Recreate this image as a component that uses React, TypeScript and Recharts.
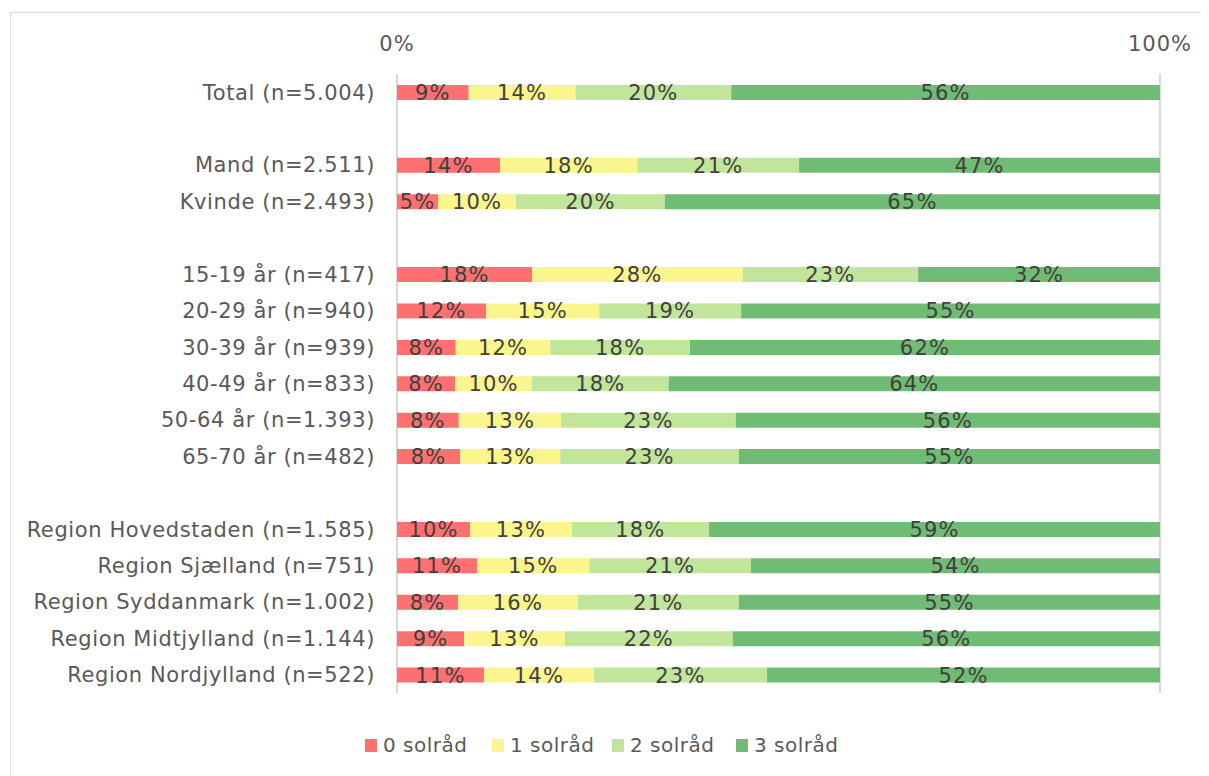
import React from 'react';
import {
  BarChart,
  Bar,
  XAxis,
  YAxis,
  CartesianGrid,
  LabelList,
} from 'recharts';

// blank entries are the spacer rows between groups
const categories = [
  'Total (n=5.004)',
  '',
  'Mand (n=2.511)',
  'Kvinde (n=2.493)',
  ' ',
  '15-19 år (n=417)',
  '20-29 år (n=940)',
  '30-39 år (n=939)',
  '40-49 år (n=833)',
  '50-64 år (n=1.393)',
  '65-70 år (n=482)',
  '  ',
  'Region Hovedstaden (n=1.585)',
  'Region Sjælland (n=751)',
  'Region Syddanmark (n=1.002)',
  'Region Midtjylland (n=1.144)',
  'Region Nordjylland (n=522)',
];

const zero = [9.4, null, 13.5, 5.4, null, 17.7, 11.7, 7.7, 7.6, 8.1, 8.3, null, 9.6, 10.5, 8.0, 8.8, 11.4];
const one = [14.0, null, 18.0, 10.2, null, 27.6, 14.8, 12.4, 10.1, 13.4, 13.1, null, 13.3, 14.7, 15.7, 13.2, 14.4];
const two = [20.4, null, 21.2, 19.5, null, 23.0, 18.6, 18.3, 17.9, 22.9, 23.4, null, 18.0, 21.2, 21.1, 22.0, 22.7];
const three = [56.2, null, 47.3, 64.9, null, 31.7, 54.9, 61.6, 64.4, 55.6, 55.2, null, 59.1, 53.6, 55.2, 56.0, 51.5];

const xTicks = [0, 100];

const seriesNames = ['0 solråd', '1 solråd', '2 solråd', '3 solråd'];
const colors = ['#FF7070', '#FAF58C', '#C1E59B', '#71BC74'];

const data = categories.map((name, i) => ({
  name,
  s0: zero[i],
  s1: one[i],
  s2: two[i],
  s3: three[i],
}));

const FONT = '"DejaVu Sans", sans-serif';
const pct = (v: any) => (v == null ? '' : `${Math.round(Number(v))}%`);

export default function App() {
  return (
    <div
      style={{
        position: 'relative',
        marginLeft: 2,
        marginTop: 4,
        width: 1198,
        height: 770,
        border: '1px solid #d9d9d9',
        borderRight: 'none',
        fontFamily: FONT,
        background: '#fff',
      }}
    >
      <BarChart
        width={1198}
        height={763}
        data={data}
        layout="vertical"
        barSize={15}
        margin={{ top: 0, right: 49, bottom: 83, left: 0 }}
      >
        <CartesianGrid horizontal={false} stroke="#d9d9d9" strokeWidth={2} />
        <XAxis
          type="number"
          orientation="top"
          domain={[0, 100]}
          ticks={xTicks}
          tickFormatter={(v) => `${v}%`}
          axisLine={false}
          tickLine={false}
          height={61}
          tickMargin={17}
          tick={{ fill: '#595959', fontSize: 21, fontFamily: FONT, letterSpacing: 1 }}
        />
        <YAxis
          type="category"
          dataKey="name"
          width={386}
          axisLine={false}
          tickLine={false}
          tickMargin={16}
          interval={0}
          tick={{ fill: '#595959', fontSize: 21, fontFamily: FONT, letterSpacing: 0.6 }}
        />
        {['s0', 's1', 's2', 's3'].map((key, i) => (
          <Bar
            key={key}
            dataKey={key}
            name={seriesNames[i]}
            stackId="a"
            fill={colors[i]}
            isAnimationActive={false}
          >
            <LabelList
              dataKey={key}
              position="center"
              formatter={pct}
              fill="#404040"
              fontSize={21}
              fontFamily={FONT}
              letterSpacing={1.2}
            />
          </Bar>
        ))}
      </BarChart>
      <div
        style={{
          position: 'absolute',
          top: 720,
          left: 354,
          display: 'flex',
          gap: 0,
          fontSize: 20,
          letterSpacing: 0.5,
          color: '#595959',
        }}
      >
        {seriesNames.map((n, i) => (
          <div key={n} style={{ display: 'flex', alignItems: 'center', width: i === 3 ? 150 : [127, 120, 124][i] }}>
            <span style={{ width: 12, height: 13, background: colors[i], marginRight: 6, display: 'inline-block' }} />
            <span>{n}</span>
          </div>
        ))}
      </div>
    </div>
  );
}
